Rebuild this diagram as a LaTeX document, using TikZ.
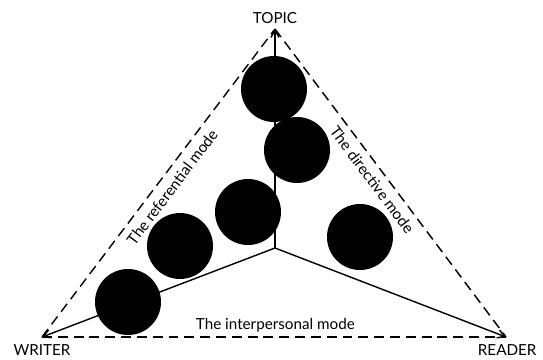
\documentclass[tikz,border=0pt]{standalone}
\usepackage{fontspec}
\setmainfont{Lato}
\usetikzlibrary{positioning,calc,arrows.meta}

\begin{document}
\begin{tikzpicture}[x=0.03cm, y=-0.03cm,
        >={Straight Barb[length=6pt,width=7pt]},
        blob/.style={circle, fill=black, minimum size=1.98cm, inner sep=0pt},
        corner/.style={font=\fontsize{13}{15}\selectfont, inner sep=1pt},
        modelabel/.style={font=\fontsize{13}{15}\selectfont},
        edge/.style={line width=1.2pt, dash pattern=on 8.5pt off 5pt},
        axis/.style={line width=1.2pt}]
        \useasboundingbox (0,0) rectangle (543,359);
        % Corners of the triangle
        \coordinate (T) at (275,29);
        \coordinate (W) at (42,337);
        \coordinate (R) at (506,337);
        \coordinate (M) at (275,248);
        \node[corner, above=3pt of T] (topic) {TOPIC};
        \node[corner, below=5.5pt of W] (writer) {WRITER};
        \node[corner, below=5.5pt of R, xshift=1pt] (reader) {READER};
        
        % Modes
        \draw[edge] (W) -- node[modelabel, sloped, below, pos=0.513, inner sep=6pt] (referential) {The referential mode} (T);
        \draw[edge] (T) -- node[modelabel, sloped, below, pos=0.465, inner sep=5.5pt] (directive) {The directive mode} (R);
        \draw[edge] (W) -- node[modelabel, above, pos=0.503, inner sep=3.5pt] (interpersonal) {The interpersonal mode} (R);
        
        % Axes
        \draw[->, axis] (M) -- (T);
        \draw[->, axis] (M) -- (W);
        \draw[->, axis] (M) -- (R);
        
        % Texts
        \node[blob] (c1) at (274,89) {};
        \node[blob] (c2) at (297,150) {};
        \node[blob] (c3) at (248,212) {};
        \node[blob] (c4) at (180,246) {};
        \node[blob] (c5) at (128,302) {};
        \node[blob] (c6) at (360,237) {};
    \end{tikzpicture}
\end{document}
